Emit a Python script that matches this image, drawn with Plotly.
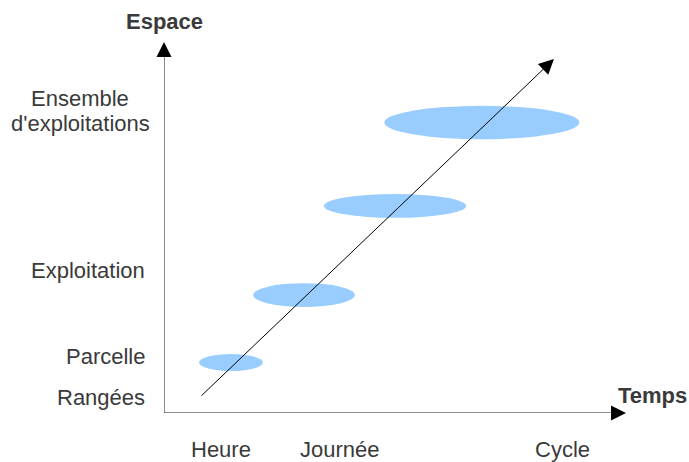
import plotly.graph_objects as go

# ---- data ----
time_labels = ["Heure", "Journée", "Cycle"]
time_pos = [1.23, 3.81, 8.63]

space_labels = ["Rangées", "Parcelle", "Exploitation", "Ensemble<br>d'exploitations"]
space_pos = [0.43, 1.51, 3.83, 8.13]

# ellipses: centre (time, space) and half extents
ell_t = [1.45, 3.03, 5.00, 6.88]
ell_s = [1.36, 3.18, 5.58, 7.83]
ell_dt = [0.69, 1.10, 1.54, 2.11]
ell_ds = [0.23, 0.32, 0.32, 0.45]

trend_t = [0.78, 8.44]
trend_s = [0.43, 9.54]

axis_max_t = 10.0
axis_max_s = 10.0

FONT = "Liberation Sans, Arial, sans-serif"
TXT = "#3a3a3a"
BLUE = "#99ccff"
FS = 22

fig = go.Figure()
fig.add_trace(go.Scatter(x=[0], y=[0], mode="markers", marker=dict(opacity=0), hoverinfo="skip", showlegend=False))

shapes = []
for t, s, dt, ds in zip(ell_t, ell_s, ell_dt, ell_ds):
    shapes.append(dict(type="circle", xref="x", yref="y", x0=t - dt, x1=t + dt, y0=s - ds, y1=s + ds,
                       fillcolor=BLUE, line=dict(width=0), layer="below"))
# axis lines (gray)
shapes.append(dict(type="line", xref="x", yref="y", x0=0, y0=0, x1=0, y1=axis_max_s - 0.3,
                   line=dict(color="#666666", width=1.5)))
shapes.append(dict(type="line", xref="x", yref="y", x0=0, y0=0, x1=axis_max_t - 0.25, y1=0,
                   line=dict(color="#666666", width=1.5)))

ann = []
# arrow heads for axes
ann.append(dict(x=0, y=axis_max_s, xref="x", yref="y", ax=0, ay=14, showarrow=True,
                arrowhead=2, arrowsize=2, arrowwidth=1.5, arrowcolor="#000000", text=""))
ann.append(dict(x=axis_max_t, y=0, xref="x", yref="y", ax=-14, ay=0, showarrow=True,
                arrowhead=2, arrowsize=2, arrowwidth=1.5, arrowcolor="#000000", text=""))
# trend arrow
ann.append(dict(x=trend_t[1], y=trend_s[1], ax=trend_t[0], ay=trend_s[0], xref="x", yref="y",
                axref="x", ayref="y", showarrow=True, arrowhead=2, arrowsize=3, arrowwidth=1,
                arrowcolor="#000000", text=""))
# axis titles
ann.append(dict(x=0.02, y=axis_max_s, xref="x", yref="y", yshift=21, showarrow=False,
                text="<b>Espace</b>", font=dict(family=FONT, size=FS, color=TXT)))
ann.append(dict(x=axis_max_t, y=0, xref="x", yref="y", xshift=26, yshift=18, showarrow=False,
                xanchor="center", text="<b>Temps</b>", font=dict(family=FONT, size=FS, color=TXT)))
# tick labels
for lab, p in zip(time_labels, time_pos):
    ann.append(dict(x=p, y=0, xref="x", yref="y", yshift=-36, showarrow=False, yanchor="middle",
                    text=lab, font=dict(family=FONT, size=FS, color=TXT)))
for lab, p in zip(space_labels, space_pos):
    lines = lab.split("<br>")
    if len(lines) == 1:
        ann.append(dict(x=0, y=p, xref="x", yref="y", xshift=-17, showarrow=False, xanchor="right",
                        yanchor="middle", text=lab, font=dict(family=FONT, size=FS, color=TXT)))
    else:
        n = len(lines)
        for i, ln in enumerate(lines):
            ann.append(dict(x=0, y=p, xref="x", yref="y", xshift=-84, yshift=(n - 1) / 2 * 25 - i * 25,
                            showarrow=False, xanchor="center", yanchor="middle", text=ln,
                            font=dict(family=FONT, size=FS, color=TXT)))

fig.update_layout(
    width=689, height=462,
    margin=dict(l=164, r=63, t=42, b=49),
    paper_bgcolor="white", plot_bgcolor="white",
    xaxis=dict(range=[0, axis_max_t], visible=False, fixedrange=True),
    yaxis=dict(range=[0, axis_max_s], visible=False, fixedrange=True),
    shapes=shapes, annotations=ann, showlegend=False,
)
fig.write_html("out.html", post_script="document.body.style.margin='0px';document.body.style.overflow='hidden';",
               config={"displayModeBar": False})
